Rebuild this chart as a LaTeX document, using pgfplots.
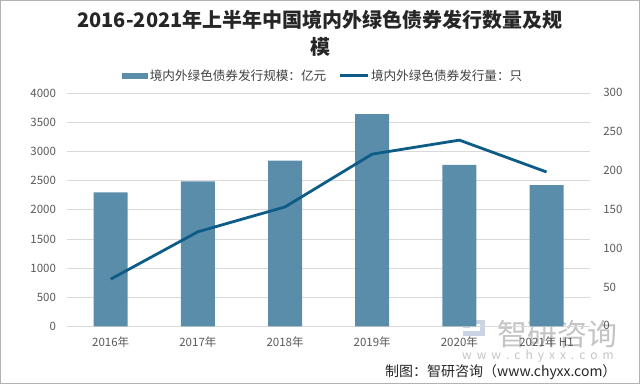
\documentclass[border=0pt]{standalone}
\usepackage{pgfplots}
\pgfplotsset{compat=1.18}
\usepackage{fontspec}
\setmainfont{Noto Sans CJK SC}
\definecolor{barcol}{HTML}{5A8DAA}
\definecolor{linecol}{HTML}{0D5C88}
\definecolor{tickgray}{HTML}{595959}
\definecolor{gridgray}{HTML}{D9D9D9}
\definecolor{wm}{HTML}{C4C4C4}
\definecolor{logo}{HTML}{C9D3E3}
\begin{document}
\begin{tikzpicture}[x=1pt,y=1pt]
\useasboundingbox (0,0) rectangle (640,384);
\draw[gray!60, line width=1pt] (0.5,0.5) rectangle (639.5,383.5);
% title
\node[font=\fontsize{20}{24}\selectfont\bfseries, text=black!85] at (320,384-20) {2016-2021年上半年中国境内外绿色债券发行数量及规};
\node[font=\fontsize{20}{24}\selectfont\bfseries, text=black!85] at (320,384-47) {模};
% watermark
\fill[logo] (463,384-320) rectangle (470,384-328);
\fill[logo] (473,384-320) rectangle (485,384-324);
\fill[logo] (463,384-331) rectangle (485,384-336);
\fill[logo] (480,384-324) rectangle (485,384-331);
\node[font=\fontsize{30}{34}\selectfont, text=wm] at (557,384-334) {智研咨询};
\node[font=\fontsize{12}{14}\selectfont, text=wm] at (538,384-356) {w\hspace{5pt}w\hspace{5pt}w\hspace{5pt}.\hspace{5pt}c\hspace{5pt}h\hspace{5pt}y\hspace{5pt}x\hspace{5pt}x\hspace{5pt}.\hspace{5pt}c\hspace{5pt}o\hspace{5pt}m};
\node[font=\fontsize{14}{16}\selectfont, anchor=east, text=black!85] at (620,384-372) {制图：智研咨询（www.chyxx.com）};
\begin{axis}[
  at={(77,99)}, anchor=south west,
  scale only axis, width=523pt, height=233pt,
  xmin=-0.5, xmax=5.5, ymin=0, ymax=4000,
  ytick={0,500,...,4000},
  xtick={0,1,2,3,4,5},
  xticklabels={2016年,2017年,2018年,2019年,2020年,2021年 H1},
  axis line style={draw=none},
  major tick length=0pt,
  ymajorgrids, grid style={gridgray, line width=0.8pt},
  /pgf/number format/assume math mode=true,
  /pgf/number format/1000 sep={},
  tick label style={font=\fontsize{11.5}{13}\selectfont, text=tickgray},
  yticklabel style={inner sep=0pt, xshift=-11pt},
  xticklabel style={inner sep=0pt, yshift=-10pt},
  clip=false,
]
\addplot[ybar, bar width=34pt, fill=barcol, draw=none] coordinates {
 (0,2300) (1,2490) (2,2845) (3,3645) (4,2770) (5,2425)};
\end{axis}
\begin{axis}[
  at={(77,75)}, anchor=south west,
  scale only axis, width=523pt, height=233pt,
  xmin=-0.5, xmax=5.5, ymin=0, ymax=300,
  ytick={0,50,...,300},
  axis y line*=right, axis x line=none,
  axis line style={draw=none},
  major tick length=0pt,
  /pgf/number format/assume math mode=true,
  tick label style={font=\fontsize{11.5}{13}\selectfont, text=tickgray},
  yticklabel style={inner sep=0pt, xshift=13pt},
  legend style={at={(0.49,1.073)}, anchor=center, draw=none, fill=none,
    font=\fontsize{12.6}{14}\selectfont, text=black!75, inner sep=0pt,
    /tikz/every even column/.append style={column sep=10pt}},
  legend columns=2,
  clip=false,
]
\addlegendimage{legend image code/.code={\fill[barcol] (0pt,-2.5pt) rectangle (25pt,2.5pt);}}
\addlegendentry{境内外绿色债券发行规模：亿元}
\addplot[linecol, line width=2.8pt, line join=round,
  legend image code/.code={\draw[linecol, line width=2.8pt] (0pt,0pt) -- (28pt,0pt);}] coordinates {
 (0,60) (1,121) (2,153) (3,221) (4,239) (5,198)};
\addlegendentry{境内外绿色债券发行量：只}
\end{axis}
\end{tikzpicture}
\end{document}
